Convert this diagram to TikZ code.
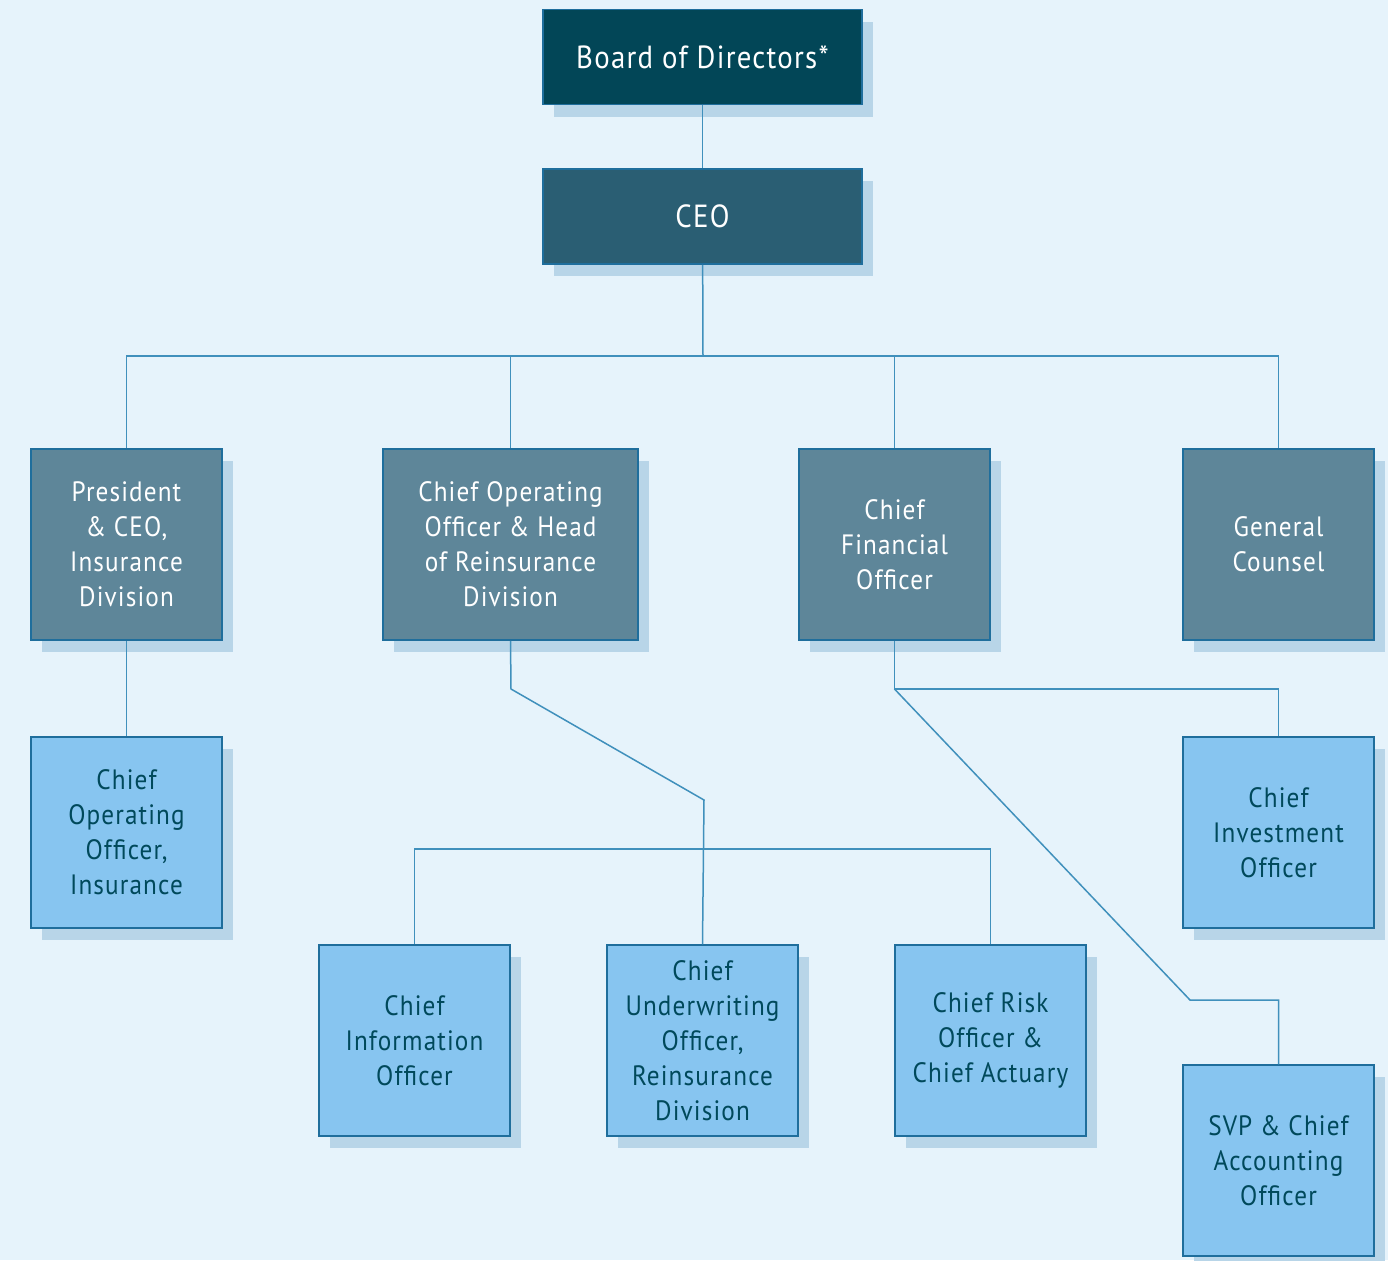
\documentclass[tikz,border=0pt]{standalone}
\usepackage{fontspec}
\setmainfont{PT Sans}[FakeStretch=0.9,LetterSpace=4.0]
\usepackage{xcolor}
\usepackage{tikz}
\usetikzlibrary{positioning}

\definecolor{bgblue}{HTML}{E6F3FB}
\definecolor{shadowblue}{HTML}{B8D5E8}
\definecolor{boardfill}{HTML}{024657}
\definecolor{ceofill}{HTML}{2A5E73}
\definecolor{execfill}{HTML}{5E8699}
\definecolor{subfill}{HTML}{87C5F0}
\definecolor{edgeblue}{HTML}{1F6E9C}
\definecolor{lineblue}{HTML}{4090BC}
\definecolor{textdark}{HTML}{00495B}

\begin{document}
\begin{tikzpicture}
        [x=0.5pt,y=-0.5pt,
          box/.style={rectangle,draw=edgeblue,line width=0.75pt,inner sep=0pt,align=center,
            preaction={fill=shadowblue,transform canvas={xshift=5.5pt,yshift=-6pt}}},
          topbox/.style={box,fill=boardfill,text=white,minimum width=159.5pt,minimum height=47.5pt,
            font=\fontsize{16}{19}\selectfont},
          execbox/.style={box,fill=execfill,text=white,minimum width=95.5pt,minimum height=95.5pt,
            font=\fontsize{14}{17.5}\selectfont},
          subbox/.style={box,fill=subfill,text=textdark,minimum width=95.5pt,minimum height=95.5pt,
            font=\fontsize{14}{17.5}\selectfont},
          link/.style={draw=lineblue,line width=0.75pt}]
        \fill[bgblue] (0,0) rectangle (1388,1260);
        \useasboundingbox (0,0) rectangle (1388,1260);
        % top of the chart
        \node[topbox] (board) at (702.5,57) {Board of Directors*};
        \node[topbox,fill=ceofill] (ceo) at (702.5,216.5) {CEO};
        % direct reports of the CEO
        \node[execbox] (pres) at (126.5,544.5) {President\\ \& CEO,\\ Insurance\\ Division};
        \node[execbox,minimum width=127.5pt] (coo) at (510.5,544.5) {Chief Operating\\ Officer \& Head\\ of Reinsurance\\ Division};
        \node[execbox] (cfo) at (894.5,544.5) {Chief\\ Financial\\ Officer};
        \node[execbox] (gc) at (1278.5,544.5) {General\\ Counsel};
        % second level
        \node[subbox] (cooi) at (126.5,832.5) {Chief\\ Operating\\ Officer,\\ Insurance};
        \node[subbox] (cio) at (414.5,1040.5) {Chief\\ Information\\ Officer};
        \node[subbox] (cuo) at (702.5,1040.5) {Chief\\ Underwriting\\ Officer,\\ Reinsurance\\ Division};
        \node[subbox] (cro) at (990.5,1040.5) {Chief Risk\\ Officer \&\\ Chief Actuary};
        \node[subbox] (cinv) at (1278.5,832.5) {Chief\\ Investment\\ Officer};
        \node[subbox] (svp) at (1278.5,1160.5) {SVP \& Chief\\ Accounting\\ Officer};
        % bends of the connectors
        \coordinate (bus1) at (703,356);
        \coordinate (k1) at (511,689);
        \coordinate (k2) at (704,800);
        \coordinate (bus2) at (704,849);
        \coordinate (k3) at (894.5,689);
        \coordinate (k4) at (1190,1000);
        \draw[link] (board) -- (ceo);
        \draw[link] (ceo) -- (bus1);
        \foreach \to in {pres,coo,cfo,gc}
        \draw[link] (bus1) -| (\to.north);
        \draw[link] (pres) -- (cooi);
        \draw[link] (coo.south) -- (k1) -- (k2) -- (cuo.north);
        \foreach \to in {cio,cro}
        \draw[link] (bus2) -| (\to.north);
        \draw[link] (cfo.south) -- (k3) -| (cinv.north);
        \draw[link] (k3) -- (k4) -| (svp.north);
      \end{tikzpicture}
\end{document}
